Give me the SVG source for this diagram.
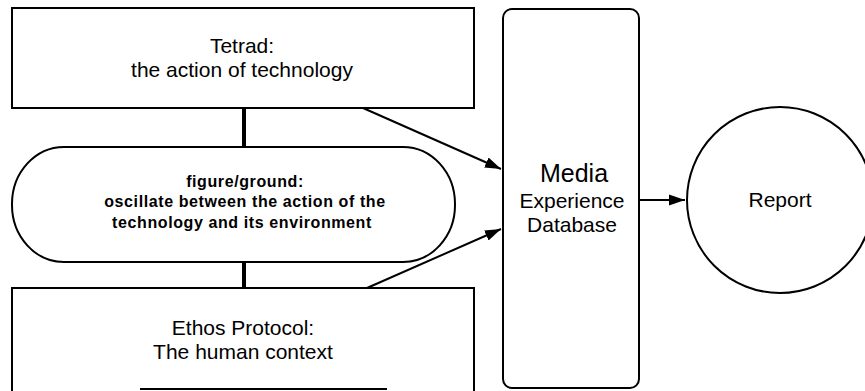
<svg xmlns="http://www.w3.org/2000/svg" width="865" height="391" viewBox="0 0 865 391">
  <defs>
    <marker id="arrow" viewBox="0 0 16 12" refX="16" refY="6" markerWidth="16" markerHeight="12" orient="auto" markerUnits="userSpaceOnUse">
      <path d="M0,0.5 L16,6 L0,11.5 Z" fill="#000"/>
    </marker>
    <style>
      .box { fill: #fff; stroke: #000; stroke-width: 2; }
      .lbl { font-family: "Liberation Sans", Arial, sans-serif; fill: #000; text-anchor: middle; }
      .big { font-size: 21px; }
      .mid { font-size: 16px; font-weight: bold; letter-spacing: 0.6px; }
      .link { stroke: #000; stroke-width: 2; fill: none; }
      .thick { stroke: #000; stroke-width: 4; fill: none; }
    </style>
  </defs>
  <rect width="865" height="391" fill="#fff"/>

  <g id="connectors">
    <line class="thick" x1="244" y1="108" x2="244" y2="147"/>
    <line class="thick" x1="244" y1="262" x2="244" y2="288"/>
    <line class="link" x1="363" y1="108" x2="501" y2="169" marker-end="url(#arrow)"/>
    <line class="link" x1="367" y1="288" x2="501" y2="229" marker-end="url(#arrow)"/>
    <line class="link" x1="640" y1="200" x2="685" y2="200" marker-end="url(#arrow)"/>
  </g>

  <g id="tetrad">
    <rect class="box" x="12" y="8" width="462" height="100"/>
    <text class="lbl big" x="242" y="53">Tetrad:</text>
    <text class="lbl big" x="242" y="77">the action of technology</text>
  </g>

  <g id="figure-ground">
    <rect class="box" x="12" y="147" width="443" height="115" rx="52" ry="57"/>
    <text class="lbl mid" x="245" y="187">figure/ground:</text>
    <text class="lbl mid" x="245" y="207">oscillate between the action of the</text>
    <text class="lbl mid" x="242" y="228">technology and its environment</text>
  </g>

  <g id="ethos">
    <path class="box" d="M12,391 V288 H474 V391"/>
    <line class="link" x1="140" y1="389" x2="387" y2="389" stroke-width="1.5"/>
    <text class="lbl big" x="243" y="335">Ethos Protocol:</text>
    <text class="lbl big" x="243" y="359">The human context</text>
  </g>

  <g id="media-db">
    <rect class="box" x="503" y="9" width="136" height="379" rx="9" ry="9"/>
    <text class="lbl" x="574" y="182" font-size="25">Media</text>
    <text class="lbl big" x="572" y="208">Experience</text>
    <text class="lbl big" x="572" y="232">Database</text>
  </g>

  <g id="report">
    <circle class="box" cx="780" cy="200" r="93"/>
    <text class="lbl big" x="780" y="207">Report</text>
  </g>
</svg>
